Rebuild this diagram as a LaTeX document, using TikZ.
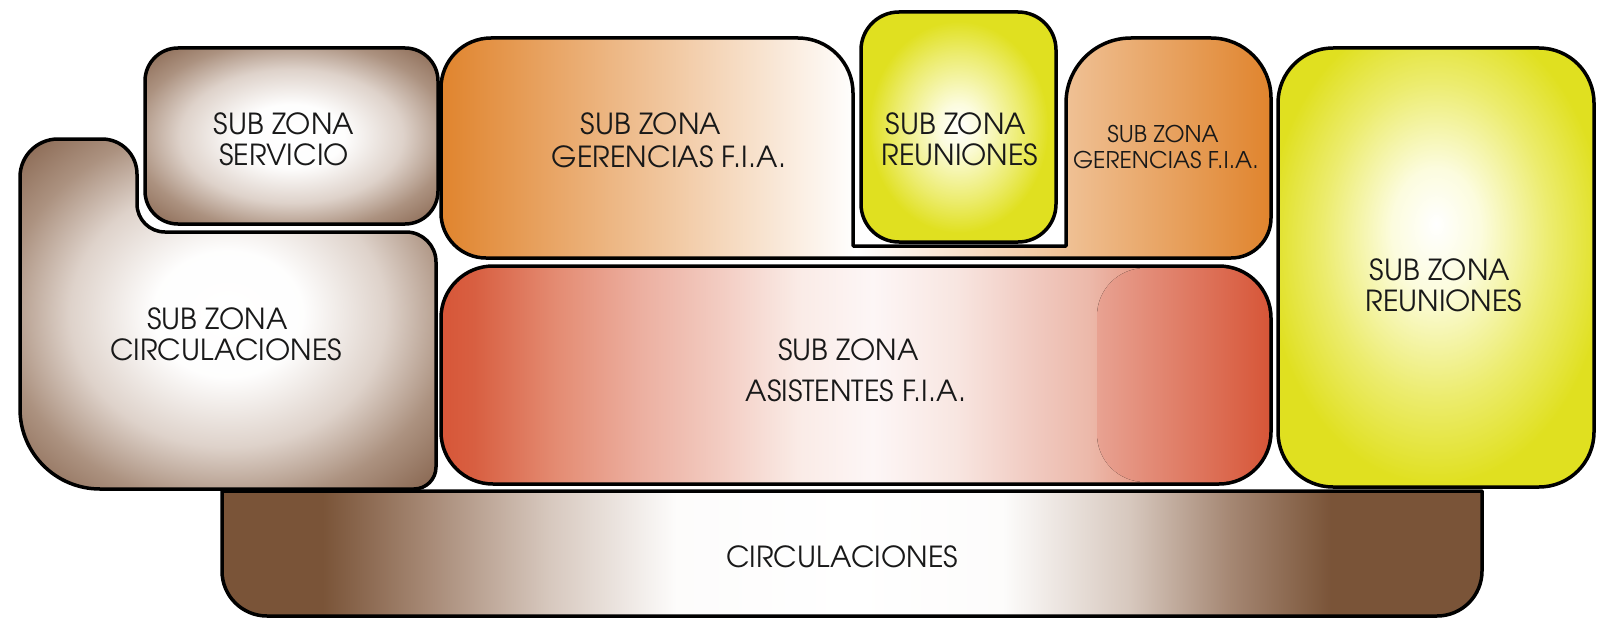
\documentclass[tikz,border=0pt]{standalone}
\usepackage{fontspec}
\setmainfont{TeX Gyre Adventor}
\definecolor{brD}{RGB}{122,84,56}
\definecolor{brM}{RGB}{165,135,115}
\definecolor{brL}{RGB}{215,200,190}
\definecolor{svC}{RGB}{136,102,80}
\definecolor{svE}{RGB}{172,146,128}
\definecolor{svL}{RGB}{222,210,202}
\definecolor{orA}{RGB}{224,132,45}
\definecolor{rdA}{RGB}{215,86,56}
\definecolor{rdB}{RGB}{232,162,146}
\definecolor{yeA}{RGB}{224,224,32}
\definecolor{yeM}{RGB}{236,236,110}
\definecolor{yeL}{RGB}{252,252,222}
\pgfdeclareradialshading{brownrad}{\pgfpoint{0bp}{0bp}}{color(0bp)=(white); color(9bp)=(white!97!svL); color(19bp)=(svL); color(27bp)=(svE); color(35bp)=(svC); color(50bp)=(svC)}
\pgfdeclareradialshading{yelrad}{\pgfpoint{0bp}{0bp}}{color(0bp)=(white); color(5bp)=(yeL); color(16bp)=(yeM); color(23bp)=(yeA); color(50bp)=(yeA)}
\pgfdeclareradialshading{yelradup}{\pgfpoint{0bp}{5bp}}{color(0bp)=(white); color(7bp)=(yeL); color(18bp)=(yeM); color(27bp)=(yeA); color(50bp)=(yeA)}
\pgfdeclarehorizontalshading{circbar}{100bp}{color(0bp)=(brD); color(25bp)=(brD); color(29bp)=(brD); color(33bp)=(brM); color(38bp)=(brL); color(43bp)=(white!94!brL); color(50bp)=(white); color(56bp)=(white!94!brL); color(61bp)=(brL); color(65bp)=(brM); color(69bp)=(brD); color(75bp)=(brD); color(100bp)=(brD)}
\pgfdeclarehorizontalshading{asisbar}{100bp}{color(0bp)=(rdA); color(25bp)=(rdA); color(27bp)=(rgb,255:red,216;green,95;blue,65); color(32bp)=(rgb,255:red,228;green,140;blue,115); color(37bp)=(rgb,255:red,236;green,175;blue,160); color(42bp)=(rgb,255:red,243;green,205;blue,195); color(46.5bp)=(rgb,255:red,250;green,235;blue,230); color(51bp)=(rgb,255:red,253;green,246;blue,246); color(56bp)=(rgb,255:red,248;green,230;blue,225); color(61bp)=(rgb,255:red,240;green,200;blue,190); color(64bp)=(rgb,255:red,236;green,185;blue,170); color(70.5bp)=(rgb,255:red,225;green,120;blue,95); color(75bp)=(rdA); color(100bp)=(rdA)}
\tikzset{
  zone/.style={draw=black, line width=3.5pt, line join=round},
  lbl/.style={font=\fontsize{29}{31}\selectfont, align=center, inner sep=0pt, text=black!90},
}
\begin{document}
\begin{tikzpicture}[x=1pt,y=-1pt]
\useasboundingbox (0,0) rectangle (1597,618);
% bottom circulation bar
\path[zone, shading=circbar] (222,491) -- (1482,491) -- (1482,571) arc[start angle=0,end angle=90,radius=45] -- (267,616) arc[start angle=90,end angle=180,radius=45] -- cycle;
% sub zona servicio
\path[zone, shading=brownrad, rounded corners=33] (145,48) rectangle (438,224);
% sub zona circulaciones
\path[zone, shading=brownrad] (20,300) -- (20,177) arc[start angle=180,end angle=270,radius=38] -- (102,139) arc[start angle=270,end angle=360,radius=35] -- (137,204) arc[start angle=180,end angle=90,radius=28] -- (406,232) arc[start angle=270,end angle=360,radius=30] -- (436,467) arc[start angle=0,end angle=90,radius=22] -- (100,489) arc[start angle=90,end angle=180,radius=80] -- cycle;
% gerencias (combined, with notch)
\path[zone, left color=orA, right color=orA, middle color=white] (441,150) -- (441,88) arc[start angle=180,end angle=270,radius=50] -- (798,38) arc[start angle=270,end angle=360,radius=55] -- (853,246) -- (1066,246) -- (1066,103) arc[start angle=180,end angle=270,radius=65] -- (1211,38) arc[start angle=270,end angle=360,radius=60] -- (1271,218) arc[start angle=0,end angle=90,radius=40] -- (486,258) arc[start angle=90,end angle=180,radius=45] -- cycle;
% reuniones small
\path[zone, shading=yelrad, rounded corners=38] (861,12) rectangle (1056,242);
% asistentes
\path[shading=asisbar, rounded corners=52] (441,266) rectangle (1271,484);
\fill[left color=rdB, right color=rdA, rounded corners=48] (1097,268) rectangle (1269,482);
\draw[zone, rounded corners=52] (441,266) rectangle (1271,484);
% reuniones big
\path[zone, shading=yelradup, rounded corners=55] (1278,48) rectangle (1594,487);
% labels
\node[lbl] (tserv) at (284,139) {SUB ZONA\\SERVICIO};
\node[lbl] (tcircsub) at (226,334) {SUB ZONA\hspace*{17pt}\\CIRCULACIONES};
\node[lbl, font=\fontsize{29}{33}\selectfont] (tger1) at (669,140) {SUB ZONA\hspace*{36pt}\\GERENCIAS F.I.A.};
\node[lbl] (treu1) at (960,139) {SUB ZONA\hspace*{8pt}\\REUNIONES};
\node[lbl, font=\fontsize{23}{25}\selectfont] (tger2) at (1166,147) {SUB ZONA\hspace*{6pt}\\GERENCIAS F.I.A.};
\node[lbl, font=\fontsize{29}{41}\selectfont] (tasis) at (856,370) {SUB ZONA\hspace*{15pt}\\ASISTENTES F.I.A.};
\node[lbl] (treu2) at (1444,285) {SUB ZONA\hspace*{8pt}\\REUNIONES};
\node[lbl] (tcirc) at (842,557) {CIRCULACIONES};
\end{tikzpicture}
\end{document}
